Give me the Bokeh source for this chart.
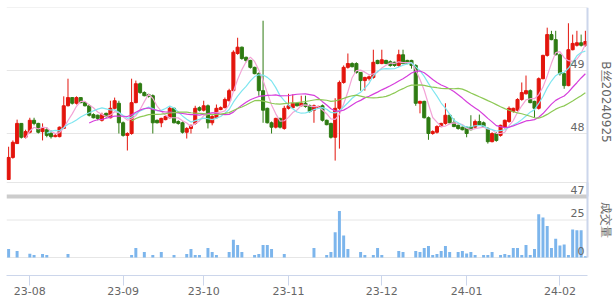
import math
import pandas as pd
from bokeh.plotting import figure
from bokeh.models import Range1d, FixedTicker
from bokeh.core.properties import value
from bokeh.embed import file_html
from bokeh.resources import INLINE

# ---------------- data ----------------
opens = [47.27, 47.62, 47.84, 48.16, 47.94, 48.02, 48.21, 48.16, 48.03, 48.06,
         48.00, 47.95, 47.95, 48.08, 48.44, 48.57, 48.48, 48.57, 48.49, 48.44,
         48.30, 48.29, 48.21, 48.32, 48.25, 48.40, 48.48, 48.17, 47.97, 48.00,
         48.49, 48.79, 48.65, 48.62, 48.60, 48.21, 48.17, 48.22, 48.25, 48.40,
         48.19, 48.17, 48.02, 48.08, 48.16, 48.41, 48.37, 48.44, 48.17, 48.25,
         48.38, 48.41, 48.52, 48.68, 49.27, 49.37, 49.21, 49.16, 49.05, 48.95,
         48.68, 48.40, 48.17, 48.10, 48.24, 48.08, 48.40, 48.41, 48.48, 48.44,
         48.48, 48.44, 48.37, 48.41, 48.44, 48.21, 48.16, 47.94, 48.40, 48.81,
         49.05, 49.11, 49.11, 48.97, 48.84, 48.87, 48.89, 49.16, 49.11, 49.16,
         49.14, 49.13, 49.08, 49.25, 49.16, 49.16, 49.08, 48.48, 48.51, 48.25,
         48.00, 48.02, 48.11, 48.16, 48.29, 48.17, 48.13, 48.10, 48.10, 48.10,
         48.10, 48.19, 48.17, 48.08, 47.87, 48.00, 47.97, 48.10, 48.19, 48.35,
         48.37, 48.54, 48.63, 48.68, 48.51, 48.40, 48.87, 49.24, 49.57, 49.49,
         49.25, 48.95, 48.76, 49.33, 49.40, 49.44, 49.40]
highs = [47.79, 47.89, 48.22, 48.16, 48.06, 48.25, 48.25, 48.17, 48.16, 48.10,
         48.05, 48.00, 48.11, 48.59, 48.87, 48.57, 48.59, 48.57, 48.51, 48.46,
         48.32, 48.30, 48.33, 48.33, 48.52, 48.57, 48.52, 48.19, 48.02, 48.87,
         48.84, 48.81, 48.67, 48.63, 48.62, 48.22, 48.25, 48.29, 48.43, 48.41,
         48.21, 48.19, 48.10, 48.14, 48.44, 48.43, 48.52, 48.46, 48.29, 48.46,
         48.43, 48.57, 48.71, 49.32, 49.52, 49.38, 49.22, 49.17, 49.06, 48.97,
         49.79, 48.41, 48.19, 48.25, 48.25, 48.44, 48.63, 48.62, 48.49, 48.60,
         48.60, 48.46, 48.46, 48.44, 48.46, 48.22, 48.17, 48.56, 48.84, 49.08,
         49.27, 49.13, 49.13, 48.97, 48.90, 48.92, 49.33, 49.17, 49.33, 49.17,
         49.16, 49.14, 49.33, 49.33, 49.17, 49.17, 49.10, 48.52, 48.52, 48.27,
         48.05, 48.13, 48.17, 48.48, 48.30, 48.24, 48.14, 48.11, 48.11, 48.29,
         48.22, 48.30, 48.19, 48.10, 48.02, 48.02, 48.14, 48.22, 48.43, 48.41,
         48.56, 48.81, 48.92, 48.70, 48.52, 48.89, 49.25, 49.68, 49.63, 49.63,
         49.27, 48.97, 49.75, 49.57, 49.63, 49.57, 49.63]
lows = [47.27, 47.60, 47.84, 47.92, 47.92, 48.00, 48.13, 48.00, 47.89, 47.94,
        47.92, 47.94, 47.94, 48.08, 48.43, 48.46, 48.46, 48.48, 48.43, 48.27,
        48.24, 48.21, 48.19, 48.25, 48.24, 48.38, 48.00, 47.95, 47.73, 47.98,
        48.48, 48.63, 48.59, 48.57, 48.00, 48.16, 48.10, 48.21, 48.24, 48.16,
        48.14, 48.00, 47.92, 48.00, 48.14, 48.35, 48.35, 48.08, 48.13, 48.24,
        48.37, 48.40, 48.51, 48.67, 49.25, 49.17, 49.13, 49.03, 48.94, 48.60,
        48.17, 48.16, 48.00, 48.08, 48.08, 48.06, 48.38, 48.40, 48.43, 48.43,
        48.41, 48.33, 48.17, 48.40, 48.19, 48.13, 47.92, 47.57, 47.76, 48.79,
        49.03, 49.05, 48.95, 48.68, 48.68, 48.84, 48.87, 49.10, 49.10, 49.10,
        49.06, 49.06, 49.06, 49.10, 49.10, 49.03, 48.44, 48.32, 48.24, 47.90,
        47.98, 48.00, 48.10, 48.14, 48.16, 48.10, 48.06, 48.05, 47.94, 48.05,
        48.08, 48.13, 48.10, 47.84, 47.86, 47.87, 47.95, 48.08, 48.17, 48.33,
        48.35, 48.52, 48.62, 48.48, 48.25, 48.38, 48.86, 49.22, 49.48, 49.24,
        48.92, 48.71, 48.75, 49.32, 49.38, 49.38, 49.38]
closes = [47.62, 47.86, 48.16, 47.94, 48.03, 48.21, 48.16, 48.02, 48.08, 47.97,
          47.95, 47.97, 48.10, 48.44, 48.57, 48.48, 48.57, 48.49, 48.44, 48.29,
          48.25, 48.24, 48.30, 48.27, 48.40, 48.52, 48.17, 47.97, 48.00, 48.49,
          48.79, 48.65, 48.60, 48.59, 48.17, 48.17, 48.24, 48.27, 48.40, 48.17,
          48.16, 48.02, 48.08, 48.13, 48.40, 48.37, 48.44, 48.17, 48.27, 48.40,
          48.41, 48.54, 48.68, 49.29, 49.37, 49.19, 49.16, 49.05, 48.95, 48.68,
          48.37, 48.17, 48.10, 48.24, 48.10, 48.40, 48.44, 48.48, 48.44, 48.48,
          48.43, 48.35, 48.44, 48.43, 48.21, 48.14, 47.94, 48.40, 48.81, 49.05,
          49.11, 49.06, 48.97, 48.84, 48.89, 48.90, 49.13, 49.11, 49.17, 49.11,
          49.08, 49.08, 49.25, 49.11, 49.11, 49.08, 48.48, 48.51, 48.25, 48.00,
          48.03, 48.11, 48.16, 48.29, 48.17, 48.11, 48.08, 48.06, 48.00, 48.06,
          48.19, 48.14, 48.11, 47.87, 48.00, 47.89, 48.13, 48.21, 48.40, 48.40,
          48.54, 48.65, 48.68, 48.49, 48.40, 48.87, 49.24, 49.57, 49.49, 49.25,
          48.95, 48.76, 49.33, 49.43, 49.44, 49.40, 49.46]
volumes = [5.7, 0, 4.3, 0, 0, 2.5, 1.6, 0, 2.3, 1.6,
           0, 0, 0, 0, 2.3, 0, 0, 0, 0, 0,
           0, 0, 0, 0, 0, 0, 0, 0, 0, 1.6,
           6.4, 0, 3.6, 0, 1.6, 0, 3.6, 0, 0, 1.6,
           0, 0, 2.3, 5.7, 1.6, 1.6, 0, 6.4, 3.6, 1.6,
           0, 0, 3.6, 11.8, 8.4, 3.6, 0, 0, 1.6, 2.3,
           8.4, 8.4, 5.7, 0, 0, 2.3, 0, 0, 0, 0,
           0, 0, 6.4, 0, 0, 1.6, 3.6, 16.8, 31, 14.6,
           5.7, 0, 0, 3.6, 1.6, 0, 1.6, 6.4, 1.6, 0,
           0, 0, 4.3, 3.6, 0, 0, 4.3, 3.6, 6.4, 7.7,
           1.6, 2.3, 4.3, 7.7, 3.6, 0, 3.6, 4.3, 2.7, 3.6,
           1.6, 0, 1.6, 1.6, 3.6, 0, 1.6, 2.3, 1.6, 6.4,
           6.4, 1.6, 8.4, 1.6, 5.7, 28.9, 26.6, 21, 6.4, 12.5,
           8, 8.7, 1.6, 18.7, 18.2, 18.2, 0.8]

month_labels = ["23-08", "23-09", "23-10", "23-11", "23-12", "24-01", "24-02"]
month_index = [5, 27, 46, 66, 88, 108, 130]

price_grid = [48, 49, 50]
price_labels = [47, 48, 49]
volume_grid = [0, 25, 50]
volume_labels = [0, 25]
price_title = "B丝20240925"
volume_title = "成交量"

ma_windows = [5, 10, 20, 30]
ma_colors = ["#f3a3d6", "#7fe6f0", "#d63fdc", "#8dc955"]

# ---------------- layout ----------------
W, H = 615, 302
left, right, top, bottom = 6, 587, 7, 275
price_top_px, price_bot_px = 7, 196
vol0_px, vol_top_px = 257, 182

N = len(closes)
idx = list(range(N))
step = (right - left) / N
xr = N - 0.5                      # right edge of the plotting pane
x_end = xr + (W - right) / step   # frame extends to the window edge

p_hi, p_lo = max(price_grid), min(price_labels)
ppu = (price_bot_px - price_top_px) / (p_hi - p_lo)
y_start = p_lo - (bottom - price_bot_px) / ppu
y_end = p_hi + (price_top_px - top) / ppu
vpu = (vol0_px - vol_top_px) / max(volume_grid)
v_start = -(bottom - vol0_px) / vpu
v_end = (vol0_px - top) / vpu

p = figure(width=W, height=H, x_range=Range1d(-0.5, x_end),
           y_range=Range1d(y_start, y_end),
           output_backend="svg", toolbar_location=None, y_axis_location=None,
           min_border_left=left, min_border_right=0,
           min_border_top=top, min_border_bottom=H - bottom)
p.extra_y_ranges = {"vol": Range1d(v_start, v_end)}
p.outline_line_color = None
p.grid.visible = False
p.background_fill_color = "white"
p.border_fill_color = "white"

xa = p.xaxis[0]
xa.ticker = FixedTicker(ticks=month_index)
xa.bounds = (-0.5, xr)
xa.major_label_overrides = {i: s for i, s in zip(month_index, month_labels)}
xa.axis_line_color = "#ccd6eb"
xa.major_tick_line_color = "#ccd6eb"
xa.major_tick_out = 10
xa.major_tick_in = 0
xa.minor_tick_line_color = None
xa.major_label_standoff = 1
xa.major_label_text_color = "#666666"
xa.major_label_text_font = "DejaVu Sans"
xa.major_label_text_font_size = "11px"

# grid lines
p.segment(x0=[-0.5] * len(price_grid), x1=[xr] * len(price_grid),
          y0=price_grid, y1=price_grid, line_color="#e6e6e6", line_width=1)
p.segment(x0=[-0.5] * len(volume_grid), x1=[xr] * len(volume_grid),
          y0=volume_grid, y1=volume_grid, line_color="#e6e6e6", line_width=1,
          y_range_name="vol")

# volume
p.vbar(x=idx, top=volumes, bottom=0, width=0.7, fill_color="#7cb5ec",
       line_color=None, y_range_name="vol")

# resize bar between panes
p.segment(x0=[-0.5], x1=[xr], y0=[p_lo], y1=[p_lo], line_color="#cccccc", line_width=4)

# candles
red, green = "#e3150d", "#2e7b12"
colors = [red if c >= o else green for o, c in zip(opens, closes)]
tops = [max(o, c) for o, c in zip(opens, closes)]
bots = [min(o, c) for o, c in zip(opens, closes)]
p.segment(x0=idx, y0=highs, x1=idx, y1=lows, line_color=colors, line_width=1)
p.vbar(x=idx, top=tops, bottom=bots, width=0.72, fill_color=colors,
       line_color=colors, line_width=1)

# moving averages
cs = pd.Series(closes)
for w, c in zip(ma_windows, ma_colors):
    ma = cs.rolling(w).mean()
    p.line(idx, ma.tolist(), line_color=c, line_width=1.2)

# right axis lines
p.segment(x0=[xr], y0=[p_lo], x1=[xr], y1=[p_hi], line_color="#ccd6eb", line_width=2)
p.segment(x0=[xr], y0=[0], x1=[xr], y1=[max(volume_grid)], line_color="#ccd6eb",
          line_width=2, y_range_name="vol")

# axis labels inside the pane
p.text(x=[xr] * len(price_labels), y=price_labels, text=[str(v) for v in price_labels],
       text_align="right", text_baseline="bottom", x_offset=-3, y_offset=-3,
       text_color="#666666", text_font=value("DejaVu Sans"), text_font_size=value("11px"))
p.text(x=[xr] * len(volume_labels), y=volume_labels, text=[str(v) for v in volume_labels],
       text_align="right", text_baseline="bottom", x_offset=-3, y_offset=-3,
       text_color="#666666", text_font=value("DejaVu Sans"), text_font_size=value("11px"),
       y_range_name="vol")

# rotated axis titles
p.text(x=[xr], y=[(p_lo + p_hi) / 2], text=[price_title], x_offset=18,
       angle=-math.pi / 2, text_align="center", text_baseline="middle",
       text_color="#666666", text_font=value("DejaVu Sans"), text_font_size=value("12px"))
p.text(x=[xr], y=[max(volume_grid) / 2], text=[volume_title], x_offset=18,
       angle=-math.pi / 2, text_align="center", text_baseline="middle",
       text_color="#666666", text_font=value("DejaVu Sans"), text_font_size=value("12px"),
       y_range_name="vol")

open("out.html", "w").write(file_html(p, INLINE))
